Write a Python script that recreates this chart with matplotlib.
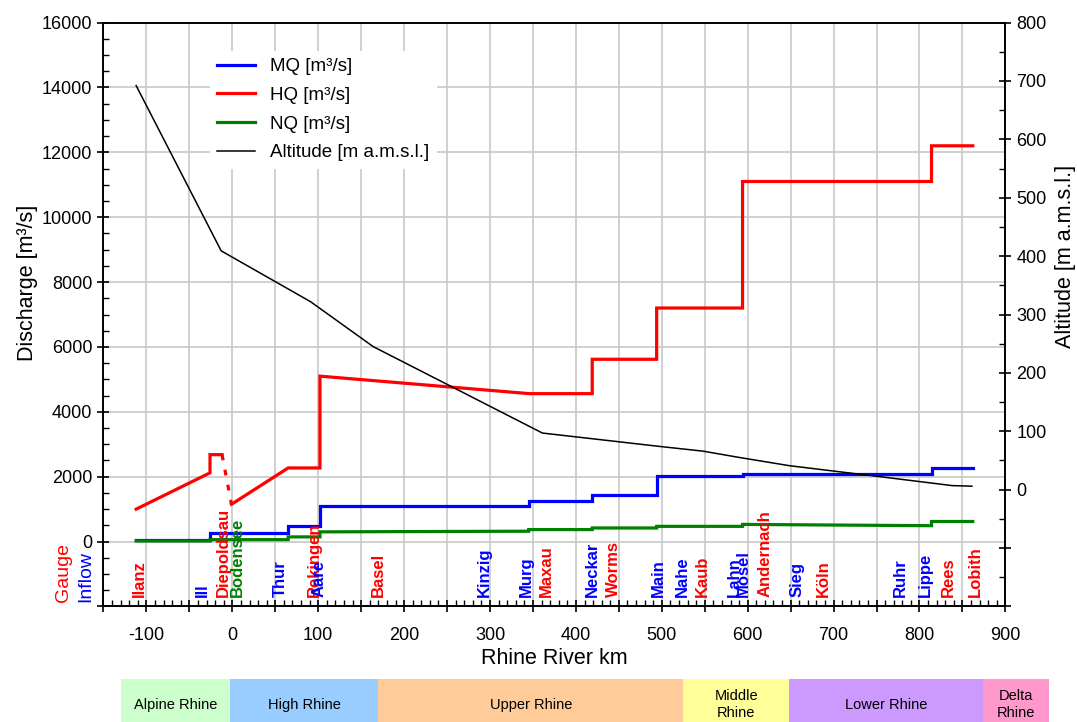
import numpy as np
import matplotlib
matplotlib.use("Agg")
import matplotlib.pyplot as plt
from matplotlib.patches import Rectangle
from matplotlib.ticker import FuncFormatter, MultipleLocator

plt.rcParams['font.family'] = ['Liberation Sans', 'DejaVu Sans']

########## DATA ##########
# mean discharge MQ
mq_km = [-112, -26, -26, 65, 65, 102, 102, 345, 345, 419, 419, 494, 494, 594, 594, 814, 814, 862]
mq = [60, 60, 270, 270, 470, 470, 1090, 1090, 1260, 1260, 1440, 1440, 2010, 2010, 2080, 2080, 2260, 2260]

# flood discharge HQ (alpine part, lake part dashed, rest)
hq_alp_km = [-112, -26, -26, -12]
hq_alp = [1000, 2120, 2680, 2680]
hq_lake_km = [-12, -1]
hq_lake = [2680, 1150]
hq_km = [-1, 65, 102, 102, 346, 419, 419, 494, 494, 594, 594, 814, 814, 862]
hq = [1150, 2270, 2270, 5100, 4560, 4560, 5620, 5620, 7200, 7200, 11100, 11100, 12200, 12200]

# low discharge NQ
nq_km = [-112, -26, -26, 65, 65, 102, 102, 345, 345, 419, 419, 494, 494, 594, 594, 814, 814, 862]
nq = [20, 20, 60, 60, 145, 145, 300, 320, 370, 370, 420, 420, 470, 470, 530, 490, 620, 620]

# altitude
alt_km = [-112, -13, 91, 164, 361, 498, 548, 591, 649, 750, 838, 861]
alt = [692, 409, 322, 245, 97, 74, 66, 55, 41, 23, 7, 6]

# labels below the curves
gauges = ["Ilanz", "Diepoldsau", "Rekingen", "Basel", "Maxau", "Worms", "Kaub",
          "Andernach", "Köln", "Rees", "Lobith"]
gauge_km = [-108, -10, 95, 170, 366, 444, 547, 620, 688, 834, 865]
inflows = ["Ill", "Thur", "Aare", "Kinzig", "Murg", "Neckar", "Main", "Nahe",
           "Lahn", "Mosel", "Sieg", "Ruhr", "Lippe"]
inflow_km = [-35, 56, 101, 294, 342, 419, 496, 524, 584, 595, 658, 778, 807]
lake = ["Bodensee"]
lake_km = [6]

# river sections
sections = ["Alpine Rhine", "High Rhine", "Upper Rhine", "Middle\nRhine", "Lower Rhine", "Delta\nRhine"]
section_edges = [-130, -3, 170, 525, 648, 874, 951]
section_colors = ["#ccffcc", "#99ccff", "#ffcc99", "#ffff99", "#cc99ff", "#ff99cc"]

########## PLOT ##########
fig = plt.figure(figsize=(10.77, 7.22), dpi=100)
ax = fig.add_axes([0.0961, 0.16, 0.8374, 0.8088])
ax2 = ax.twinx()

ax.set_xlim(-150, 900)
ax.set_ylim(-2000, 16000)
ax2.set_ylim(-200, 800)

ax.grid(True, color="#c8c8c8", lw=1.2)
ax.set_axisbelow(True)

ax.plot(mq_km, mq, color="#0000ff", lw=2.3, label="MQ [m³/s]", solid_joinstyle="miter")
ax.plot(hq_km, hq, color="#ff0000", lw=2.3, label="HQ [m³/s]", solid_joinstyle="miter")
ax.plot(hq_alp_km, hq_alp, color="#ff0000", lw=2.3, solid_joinstyle="miter")
ax.plot(hq_lake_km, hq_lake, color="#ff0000", lw=2.3, dashes=(1.8, 3))
ax.plot(nq_km, nq, color="#008000", lw=2.3, label="NQ [m³/s]", solid_joinstyle="miter")
ax2.plot(alt_km, alt, color="black", lw=1.1, label="Altitude [m a.m.s.l.]")

for name, k in zip(gauges, gauge_km):
    ax.text(k, -1720, name, rotation=90, ha="center", va="bottom", color="#ff0000",
            fontsize=12, fontweight="bold")
for name, k in zip(inflows, inflow_km):
    ax.text(k, -1720, name, rotation=90, ha="center", va="bottom", color="#0000ff",
            fontsize=12, fontweight="bold")
for name, k in zip(lake, lake_km):
    ax.text(k, -1720, name, rotation=90, ha="center", va="bottom", color="#008000",
            fontsize=12, fontweight="bold")
ax.text(-197, -1850, "Gauge", rotation=90, ha="center", va="bottom", color="#ff0000",
        fontsize=14, clip_on=False)
ax.text(-171, -1850, "Inflow", rotation=90, ha="center", va="bottom", color="#0000ff",
        fontsize=14, clip_on=False)

# ticks
ax.set_xticks(np.arange(-150, 901, 50))
ax.xaxis.set_major_formatter(FuncFormatter(lambda v, p: "%d" % v if v % 100 == 0 else ""))
ax.xaxis.set_minor_locator(MultipleLocator(10))
ax.set_yticks(np.arange(-2000, 16001, 2000))
ax.yaxis.set_major_formatter(FuncFormatter(lambda v, p: "%d" % v if v >= 0 else ""))
ax.yaxis.set_minor_locator(MultipleLocator(500))
ax2.set_yticks(np.arange(-200, 801, 100))
ax2.yaxis.set_major_formatter(FuncFormatter(lambda v, p: "%d" % v if v >= 0 else ""))
ax2.yaxis.set_minor_locator(MultipleLocator(50))

ax.tick_params(which="major", direction="inout", length=8, width=1.2, labelsize=13)
ax.tick_params(which="minor", direction="in", length=4, width=1)
ax.tick_params(axis="x", which="major", pad=11)
ax.tick_params(axis="y", which="major", pad=4)
ax2.tick_params(which="major", direction="inout", length=8, width=1.2, labelsize=13, pad=4)
ax2.tick_params(which="minor", direction="in", length=4, width=1)
for a in (ax, ax2):
    for s in a.spines.values():
        s.set_linewidth(1.2)

ax.set_xlabel("Rhine River km", fontsize=15.5, labelpad=3)
ax.set_ylabel("Discharge [m³/s]", fontsize=15.5)
ax2.set_ylabel("Altitude [m a.m.s.l.]", fontsize=15.5)
ax.yaxis.set_label_coords(-0.073, 0.555)
ax2.yaxis.set_label_coords(1.055, 0.6)

h1, lab1 = ax.get_legend_handles_labels()
h2, lab2 = ax2.get_legend_handles_labels()
leg = ax2.legend(h1 + h2, lab1 + lab2, loc="upper left", bbox_to_anchor=(0.118, 0.952),
                 borderaxespad=0, fontsize=13.5, frameon=True, fancybox=False,
                 framealpha=1, edgecolor="none", facecolor="white",
                 handlelength=2.0, labelspacing=0.62)

# river sections band
axb = fig.add_axes([0.0961, 0.0, 0.8374, 43 / 722])
axb.set_xlim(-150, 900)
axb.set_ylim(0, 1)
axb.axis("off")
for i, name in enumerate(sections):
    x0, x1 = section_edges[i], section_edges[i + 1]
    axb.add_patch(Rectangle((x0, 0), x1 - x0, 1, facecolor=section_colors[i],
                            edgecolor="none", clip_on=False))
    axb.text((x0 + x1) / 2, 0.4, name, ha="center", va="center", fontsize=10.5,
             clip_on=False, linespacing=1.3)

fig.savefig("out.png", dpi=100)
